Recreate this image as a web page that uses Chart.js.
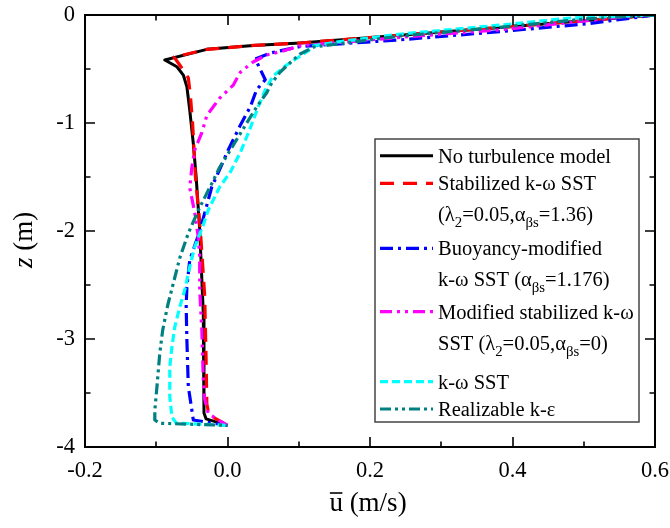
<!DOCTYPE html>
<html>
<head>
<meta charset="utf-8">
<script src="https://cdn.jsdelivr.net/npm/chart.js@4.4.1/dist/chart.umd.min.js"></script>
<style>
  html, body { margin: 0; padding: 0; background: #ffffff; }
  canvas { display: block; }
</style>
</head>
<body>
<canvas id="profile" width="670" height="528"></canvas>
<script>
// Mean velocity profiles u(z) for six turbulence closures

// axis ticks
const xTicks = [-0.2, 0.0, 0.2, 0.4, 0.6];
const xMinorTicks = [-0.1, 0.1, 0.3, 0.5];
const yTicks = [0, -1, -2, -3, -4];
const yMinorTicks = [-0.5, -1.5, -2.5, -3.5];

// legend text (_{..} marks a subscript)
const seriesLabels = [
  'No turbulence model',
  'Stabilized k-ω SST\n(λ_{2}=0.05,α_{βs}=1.36)',
  'Buoyancy-modified\nk-ω SST (α_{βs}=1.176)',
  'Modified stabilized k-ω\nSST (λ_{2}=0.05,α_{βs}=0)',
  'k-ω SST',
  'Realizable k-ε'
];

// No turbulence model
const noTurbU = [0.6, 0.387, 0.102, 0.036, -0.029, -0.088, -0.071, -0.062, -0.057, -0.053, -0.048, -0.044, -0.039, -0.034, -0.033, -0.030, 0.0];
const noTurbZ = [0, -0.113, -0.259, -0.282, -0.318, -0.417, -0.479, -0.556, -0.664, -0.88, -1.188, -1.5, -1.99, -2.76, -3.685, -3.74, -3.8];

// Stabilized k-ω SST
const stabU = [0.6, 0.387, 0.102, 0.036, -0.029, -0.075, -0.067, -0.055, -0.052, -0.049, -0.045, -0.038, -0.032, -0.030, -0.029, -0.026, -0.016, 0.0];
const stabZ = [0, -0.113, -0.259, -0.282, -0.318, -0.39, -0.463, -0.583, -0.75, -1.0, -1.5, -2.0, -2.6, -3.2, -3.6, -3.7, -3.74, -3.8];

// Buoyancy-modified k-ω SST
const buoyU = [0.6, 0.505, 0.387, 0.244, 0.102, 0.060, 0.039, 0.053, 0.041, 0.032, 0.018, 0.001, -0.013, -0.022, -0.036, -0.043, -0.053, -0.057, -0.058, -0.057, -0.055, -0.050, -0.048, 0.0];
const buoyZ = [0, -0.081, -0.151, -0.229, -0.292, -0.352, -0.407, -0.60, -0.69, -0.85, -1.02, -1.25, -1.46, -1.59, -1.93, -2.08, -2.27, -2.52, -2.70, -3.01, -3.44, -3.66, -3.75, -3.8];

// Modified stabilized k-ω SST
const modStabU = [0.6, 0.552, 0.387, 0.244, 0.102, 0.078, 0.055, 0.036, 0.018, 0.008, -0.011, -0.029, -0.036, -0.046, -0.050, -0.053, -0.046, -0.041, -0.039, -0.039, -0.036, -0.034, -0.032, -0.027, -0.013, 0.0];
const modStabZ = [0, -0.019, -0.135, -0.206, -0.285, -0.333, -0.37, -0.435, -0.53, -0.65, -0.77, -0.93, -1.09, -1.25, -1.41, -1.60, -1.83, -2.06, -2.24, -2.55, -2.92, -3.38, -3.56, -3.69, -3.75, -3.8];

// k-ω SST
const sstU = [0.6, 0.481, 0.387, 0.244, 0.158, 0.121, 0.113, 0.098, 0.081, 0.064, 0.053, 0.043, 0.032, 0.019, 0.004, -0.011, -0.027, -0.034, -0.046, -0.053, -0.060, -0.067, -0.074, -0.078, -0.081, -0.081, -0.078, -0.072, 0.0];
const sstZ = [0, -0.028, -0.091, -0.176, -0.246, -0.285, -0.333, -0.398, -0.472, -0.565, -0.694, -0.852, -1.046, -1.259, -1.454, -1.593, -1.806, -1.944, -2.148, -2.333, -2.546, -2.704, -2.889, -3.074, -3.259, -3.537, -3.722, -3.778, -3.8];

// Realizable k-ε
const rkeU = [0.6, 0.505, 0.387, 0.244, 0.121, 0.102, 0.092, 0.074, 0.062, 0.055, 0.041, 0.027, 0.004, -0.011, -0.022, -0.029, -0.041, -0.055, -0.067, -0.084, -0.091, -0.095, -0.099, -0.102, -0.102, -0.095, 0.0];
const rkeZ = [0, -0.035, -0.111, -0.194, -0.296, -0.361, -0.417, -0.528, -0.63, -0.72, -0.85, -1.0, -1.25, -1.41, -1.56, -1.65, -1.81, -2.02, -2.25, -2.69, -2.92, -3.13, -3.44, -3.66, -3.75, -3.78, -3.8];

const toPoints = (us, zs) => us.map((u, i) => ({ x: u, y: zs[i] }));

const lineStyles = [
  { color: '#000000', width: 3, dash: [] },
  { color: '#ff0000', width: 3.2, dash: [14, 9] },
  { color: '#0000ff', width: 3.2, dash: [13, 5, 3, 5] },
  { color: '#ff00ff', width: 3.2, dash: [12, 5, 3, 5, 3, 5] },
  { color: '#00ffff', width: 3.2, dash: [8, 4] },
  { color: '#008080', width: 3.2, dash: [11, 4, 3, 4, 3, 4] }
];

const seriesData = [
  toPoints(noTurbU, noTurbZ),
  toPoints(stabU, stabZ),
  toPoints(buoyU, buoyZ),
  toPoints(modStabU, modStabZ),
  toPoints(sstU, sstZ),
  toPoints(rkeU, rkeZ)
];

const SERIF = '"Liberation Serif", "Times New Roman", serif';

// draws a line of text that may contain _{...} subscripts
function drawRich(ctx, str, x, baseline, size) {
  const parts = str.split(/(_\{[^}]*\})/).filter(p => p.length);
  let cx = x;
  for (const p of parts) {
    if (p.startsWith('_{')) {
      const t = p.slice(2, -1);
      ctx.font = (size * 0.72).toFixed(1) + 'px ' + SERIF;
      ctx.fillText(t, cx, baseline + size * 0.3);
      cx += ctx.measureText(t).width;
    } else {
      ctx.font = size + 'px ' + SERIF;
      ctx.fillText(p, cx, baseline);
      cx += ctx.measureText(p).width;
    }
  }
}

const frameAndLegend = {
  id: 'frameAndLegend',
  afterDraw(chart) {
    const ctx = chart.ctx;
    const { left, right, top, bottom } = chart.chartArea;
    const xs = chart.scales.x, ys = chart.scales.y;
    ctx.save();

    // plot frame
    ctx.strokeStyle = '#000';
    ctx.lineWidth = 2;
    ctx.setLineDash([]);
    ctx.strokeRect(left, top, right - left, bottom - top);

    // inward ticks on all four sides
    const major = 10, minor = 5.5;
    ctx.lineWidth = 1.6;
    ctx.beginPath();
    const xMarks = xTicks.map(v => [v, major]).concat(xMinorTicks.map(v => [v, minor]));
    for (const [v, len] of xMarks) {
      const px = Math.round(xs.getPixelForValue(v));
      ctx.moveTo(px, bottom); ctx.lineTo(px, bottom - len);
      ctx.moveTo(px, top); ctx.lineTo(px, top + len);
    }
    const yMarks = yTicks.map(v => [v, major]).concat(yMinorTicks.map(v => [v, minor]));
    for (const [v, len] of yMarks) {
      const py = Math.round(ys.getPixelForValue(v));
      ctx.moveTo(left, py); ctx.lineTo(left + len, py);
      ctx.moveTo(right, py); ctx.lineTo(right - len, py);
    }
    ctx.stroke();

    // legend
    const box = { x: 375, y: 139, w: 264, h: 283 };
    ctx.fillStyle = '#fff';
    ctx.fillRect(box.x, box.y, box.w, box.h);
    ctx.strokeStyle = '#444';
    ctx.lineWidth = 1.5;
    ctx.strokeRect(box.x, box.y, box.w, box.h);
    const rowY = [155.7, 183.3, 248.3, 311.7, 381.7, 409];
    const lineGap = 31;
    const size = 20.5;
    ctx.fillStyle = '#000';
    ctx.textBaseline = 'alphabetic';
    ctx.textAlign = 'left';
    seriesLabels.forEach((label, i) => {
      const st = lineStyles[i];
      ctx.strokeStyle = st.color;
      ctx.lineWidth = st.width;
      ctx.setLineDash(st.dash);
      ctx.beginPath();
      ctx.moveTo(380, rowY[i]);
      ctx.lineTo(433, rowY[i]);
      ctx.stroke();
      ctx.setLineDash([]);
      label.split('\n').forEach((ln, k) => {
        drawRich(ctx, ln, 438, rowY[i] + k * lineGap + 6.8, size);
      });
    });

    // x-axis title with overbar on u
    const tSize = 27;
    ctx.font = tSize + 'px ' + SERIF;
    const xTitle = 'u (m/s)';
    const tw = ctx.measureText(xTitle).width;
    const tx = (left + right) / 2 - tw / 2 - 2;
    const tBase = 511;
    ctx.fillText(xTitle, tx, tBase);
    const uw = ctx.measureText('u').width;
    ctx.strokeStyle = '#000';
    ctx.lineWidth = 1.6;
    ctx.beginPath();
    ctx.moveTo(tx + 0.5, tBase - 18);
    ctx.lineTo(tx + uw - 0.5, tBase - 18);
    ctx.stroke();

    // y-axis title, italic z
    ctx.translate(32, 240);
    ctx.rotate(-Math.PI / 2);
    ctx.font = 'italic ' + tSize + 'px ' + SERIF;
    const zw = ctx.measureText('z').width;
    ctx.font = tSize + 'px ' + SERIF;
    const restW = ctx.measureText(' (m)').width;
    const startX = -(zw + restW) / 2;
    ctx.font = 'italic ' + tSize + 'px ' + SERIF;
    ctx.fillText('z', startX, 0);
    ctx.font = tSize + 'px ' + SERIF;
    ctx.fillText(' (m)', startX + zw, 0);

    ctx.restore();
  }
};

new Chart(document.getElementById('profile'), {
  type: 'scatter',
  data: {
    datasets: seriesData.map((pts, i) => ({
      label: seriesLabels[i].replace(/_\{|\}/g, '').replace('\n', ' '),
      data: pts,
      showLine: true,
      borderColor: lineStyles[i].color,
      borderWidth: lineStyles[i].width,
      borderDash: lineStyles[i].dash,
      borderCapStyle: 'butt',
      borderJoinStyle: 'round',
      pointRadius: 0,
      pointHoverRadius: 0,
      fill: false,
      tension: 0,
      order: seriesData.length - i
    }))
  },
  options: {
    responsive: false,
    animation: false,
    devicePixelRatio: 1,
    layout: { padding: { top: 15, right: 15, left: 0, bottom: 0 } },
    plugins: {
      legend: { display: false },
      tooltip: { enabled: false }
    },
    scales: {
      x: {
        type: 'linear',
        min: -0.2,
        max: 0.6,
        afterBuildTicks: s => { s.ticks = xTicks.map(v => ({ value: v })); },
        afterFit: s => { s.height = 81; s.paddingLeft = 0; s.paddingRight = 0; },
        grid: { display: false, drawTicks: false },
        border: { display: false },
        ticks: {
          autoSkip: false,
          maxRotation: 0,
          padding: 11,
          color: '#000',
          font: { family: SERIF, size: 22.5 },
          callback: v => v.toFixed(1)
        }
      },
      y: {
        type: 'linear',
        min: -4,
        max: 0,
        afterBuildTicks: s => { s.ticks = yTicks.map(v => ({ value: v })); },
        afterFit: s => { s.width = 85; s.paddingTop = 0; s.paddingBottom = 0; },
        grid: { display: false, drawTicks: false },
        border: { display: false },
        ticks: {
          autoSkip: false,
          padding: 10,
          color: '#000',
          font: { family: SERIF, size: 22.5 },
          callback: v => String(v)
        }
      }
    }
  },
  plugins: [frameAndLegend]
});
</script>
</body>
</html>
